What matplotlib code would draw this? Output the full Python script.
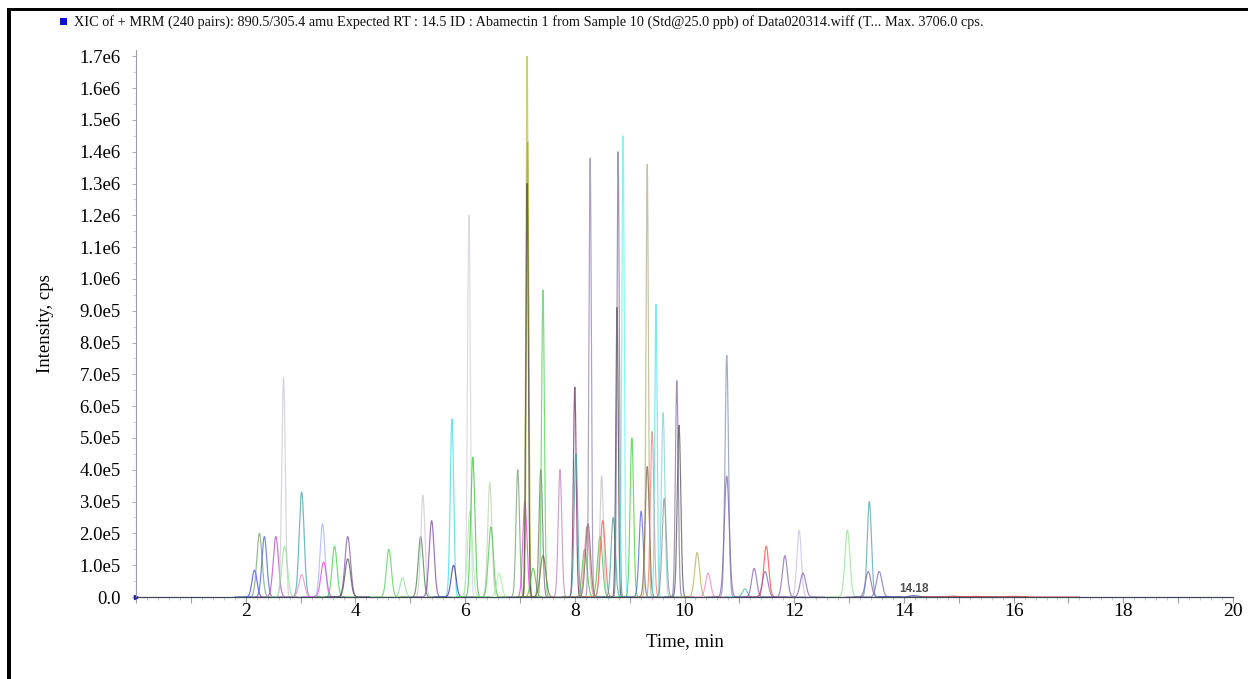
import numpy as np
import matplotlib
matplotlib.use("Agg")
import matplotlib.pyplot as plt
from matplotlib.ticker import MultipleLocator, FuncFormatter
from matplotlib.patches import Rectangle

# ---- data (retention time in min, height in cps, peak sigma in min) ----
peak_rt = [2.16, 2.25, 2.34, 2.55, 2.69, 2.71, 3.02, 3.02, 3.40, 3.42,
           3.62, 3.86, 3.86, 4.61, 4.86, 5.19, 5.23, 5.39, 5.76, 5.79,
           6.07, 6.09, 6.14, 6.45, 6.47, 6.62, 6.96, 7.09, 7.13, 7.14,
           7.13, 7.24, 7.38, 7.42, 7.42, 7.73, 8.00, 8.02, 8.18, 8.22,
           8.24, 8.28, 8.46, 8.49, 8.51, 8.70, 8.77, 8.79, 8.88, 9.04,
           9.21, 9.32, 9.32, 9.41, 9.48, 9.61, 9.63, 9.86, 9.90, 10.23,
           10.43, 10.77, 10.77, 11.10, 11.27, 11.49, 11.47, 11.83, 12.09, 12.16,
           12.97, 13.37, 13.35, 13.55, 14.18, 14.90, 15.30, 16.00]
peak_height = [0.84e5, 2.0e5, 1.9e5, 1.9e5, 6.9e5, 1.6e5, 3.3e5, 0.7e5, 2.3e5, 1.1e5,
               1.6e5, 1.9e5, 1.2e5, 1.5e5, 0.6e5, 1.9e5, 3.2e5, 2.4e5, 5.6e5, 1.0e5,
               12.0e5, 2.7e5, 4.4e5, 3.6e5, 2.2e5, 0.75e5, 4.0e5, 3.0e5, 17.0e5, 14.3e5,
               13.0e5, 0.9e5, 4.0e5, 9.65e5, 1.3e5, 4.0e5, 6.6e5, 4.5e5, 1.5e5, 2.2e5,
               2.3e5, 13.8e5, 1.9e5, 3.8e5, 2.4e5, 2.5e5, 9.1e5, 14.0e5, 14.5e5, 5.0e5,
               2.7e5, 13.6e5, 4.1e5, 5.2e5, 9.2e5, 5.8e5, 3.1e5, 6.8e5, 5.4e5, 1.4e5,
               0.75e5, 7.6e5, 3.8e5, 0.25e5, 0.9e5, 1.6e5, 0.8e5, 1.3e5, 2.1e5, 0.75e5,
               2.1e5, 3.0e5, 0.8e5, 0.8e5, 0.04e5, 0.025e5, 0.02e5, 0.02e5]
peak_sigma = [0.045, 0.048, 0.045, 0.048, 0.032, 0.050, 0.045, 0.050, 0.045, 0.050,
              0.045, 0.050, 0.050, 0.045, 0.045, 0.045, 0.038, 0.045, 0.032, 0.045,
              0.026, 0.045, 0.038, 0.038, 0.045, 0.045, 0.032, 0.038, 0.022, 0.022,
              0.022, 0.045, 0.032, 0.026, 0.050, 0.032, 0.026, 0.032, 0.045, 0.045,
              0.045, 0.022, 0.045, 0.032, 0.045, 0.038, 0.022, 0.022, 0.022, 0.032,
              0.038, 0.022, 0.038, 0.032, 0.022, 0.032, 0.038, 0.026, 0.032, 0.045,
              0.045, 0.032, 0.045, 0.045, 0.045, 0.045, 0.050, 0.045, 0.040, 0.050,
              0.045, 0.038, 0.050, 0.050, 0.080, 0.100, 0.120, 0.150]
peak_color = ["#4040ff", "#70a070", "#4060d0", "#c040c0", "#c8c8d0", "#90e090", "#40a0a8", "#f080c0", "#a0b0ff", "#e040e0",
              "#40d040", "#8050a0", "#505050", "#50d050", "#90e090", "#408040", "#c8c8d0", "#8040a0", "#30e0e8", "#3030a0",
              "#d0d0d8", "#a0f0a0", "#40c040", "#c0d0b0", "#50c050", "#a0f0a0", "#70a070", "#e040e0", "#c0c040", "#a0a030",
              "#505050", "#40c040", "#707070", "#50d050", "#806040", "#c080c0", "#802060", "#40a0a0", "#40c040", "#f080c0",
              "#806040", "#9080b0", "#40c040", "#c0c0c0", "#ff5050", "#40a0a0", "#404040", "#8070a0", "#60f0f0", "#40d040",
              "#5060e0", "#b0b080", "#806040", "#f08070", "#50e0f0", "#80d0d0", "#909090", "#8070a0", "#505050", "#b0b060",
              "#f080c0", "#8090b0", "#8060b0", "#40b0b0", "#8060b0", "#ff4040", "#8060b0", "#8060b0", "#c0c0e8", "#8060b0",
              "#90e090", "#50a0b0", "#8060b0", "#8060b0", "#2030a0", "#606060", "#ff5050", "#c04040"]

x_tick_values = [2, 4, 6, 8, 10, 12, 14, 16, 18, 20]
label_rt = 14.18

title_text = ("XIC of + MRM (240 pairs): 890.5/305.4 amu Expected RT : 14.5 ID : Abamectin 1 from "
              "Sample 10 (Std@25.0 ppb) of Data020314.wiff (T... Max. 3706.0 cps.")

# ---- figure ----
W, H = 1248, 679
fig = plt.figure(figsize=(W / 100, H / 100), dpi=100)
fig.patch.set_facecolor("white")

ax_left, ax_right = 136, 1233
ax_bottom, ax_top = 597, 50
ax = fig.add_axes([ax_left / W, 1 - ax_bottom / H, (ax_right - ax_left) / W, (ax_bottom - ax_top) / H])
ax.set_xlim(0, 20)
ax.set_ylim(0, 1.72e6)

t = np.linspace(0, 20, 8001)
for rt, h, s, c in zip(peak_rt, peak_height, peak_sigma, peak_color):
    m = (t > rt - 8 * s) & (t < rt + 8 * s)
    tt = t[m]
    yy = h * np.exp(-0.5 * ((tt - rt) / s) ** 2)
    ax.plot(tt, yy, color=c, lw=0.85, alpha=0.75, solid_joinstyle="round")

ax.plot([0], [0], marker=">", color="#2020c0", ms=3, clip_on=False)

# axes styling
for side in ("top", "right"):
    ax.spines[side].set_visible(False)
ax.spines["left"].set_color("#a0a0a8")
ax.spines["bottom"].set_color("#404858")
ax.spines["left"].set_linewidth(0.8)
ax.spines["bottom"].set_linewidth(0.9)

serif = ["Liberation Serif", "DejaVu Serif"]
ax.xaxis.set_major_locator(MultipleLocator(1))
ax.xaxis.set_minor_locator(MultipleLocator(0.2))
ax.xaxis.set_major_formatter(FuncFormatter(lambda v, p: f"{int(round(v))}" if int(round(v)) in x_tick_values and abs(v - round(v)) < 1e-6 else ""))
ax.yaxis.set_major_locator(MultipleLocator(1e5))
ax.yaxis.set_minor_locator(MultipleLocator(0.5e5))


def yfmt(v, p):
    if v == 0:
        return "0.0"
    return f"{v:.1e}".replace("e+0", "e").replace("e+", "e")


ax.yaxis.set_major_formatter(FuncFormatter(yfmt))
ax.tick_params(axis="x", which="major", length=4, color="#a0a0a8", pad=0, labelsize=14)
ax.tick_params(axis="x", which="minor", length=2, color="#c0c0c8")
ax.tick_params(axis="y", which="major", length=3, color="#b0b0b8", pad=8, labelsize=13.5)
ax.tick_params(axis="y", which="minor", length=2, color="#c8c8d0")
for lab in ax.get_xticklabels() + ax.get_yticklabels():
    lab.set_family(serif)

ax.set_xlabel("Time, min", family=serif, fontsize=13.5, labelpad=10)
ax.set_ylabel("Intensity, cps", family=serif, fontsize=13.5, labelpad=18)

ax.text(label_rt, 0.05e5, f"{label_rt:.2f}", ha="center", va="bottom", fontsize=8.5,
        family=["Liberation Sans", "DejaVu Sans"], color="#505050", fontweight="bold")

# title with blue marker square
fig.patches.append(Rectangle((60 / W, 1 - 25 / H), 7 / W, 7 / H, transform=fig.transFigure,
                             facecolor="#1010d0", edgecolor="none"))
fig.text(74 / W, 1 - 22 / H, title_text, ha="left", va="center", fontsize=10.3, family=serif, color="#101010")

# window frame (left and top thick lines)
fig.patches.append(Rectangle((7 / W, 0), 4 / W, 1 - 8 / H, transform=fig.transFigure,
                             facecolor="black", edgecolor="none"))
fig.patches.append(Rectangle((7 / W, 1 - 11 / H), 1 - 7 / W, 3 / H, transform=fig.transFigure,
                             facecolor="black", edgecolor="none"))

fig.savefig("out.png", dpi=100, facecolor="white")
